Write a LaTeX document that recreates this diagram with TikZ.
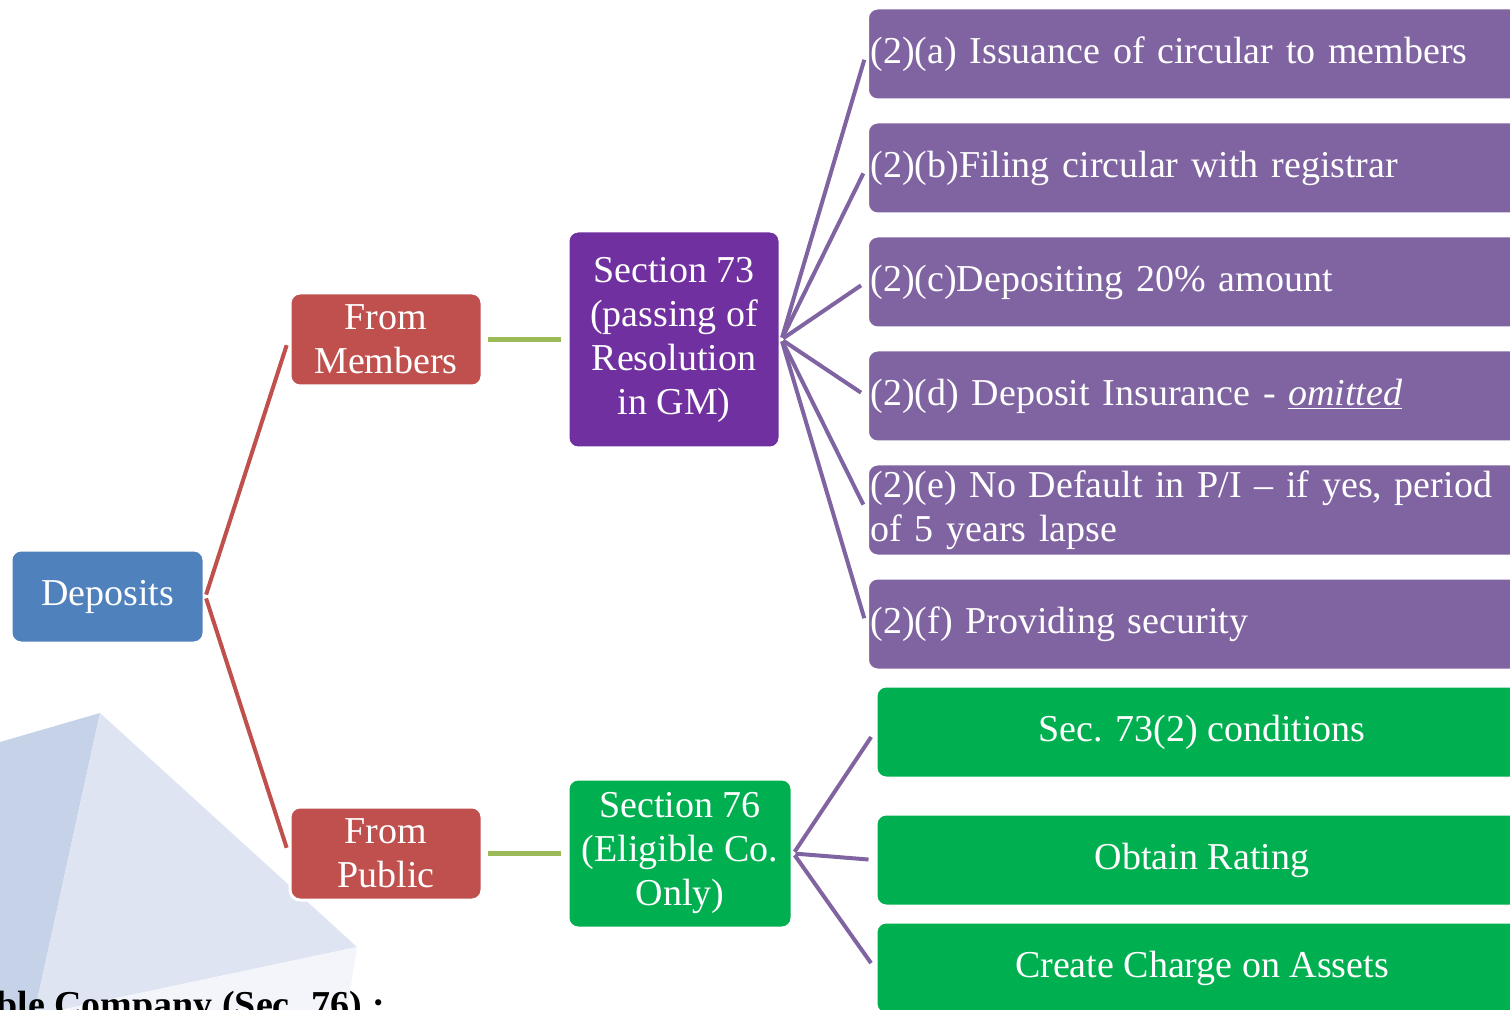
\documentclass[tikz,border=0pt]{standalone}
\usepackage{fontspec}
\setmainfont{Liberation Serif}
\usepackage{tikz}
\usetikzlibrary{arrows.meta, positioning, calc}
\definecolor{depblue}{HTML}{4F81BD}
\definecolor{srcred}{HTML}{C0504D}
\definecolor{secpurple}{HTML}{7030A0}
\definecolor{itempurple}{HTML}{8064A2}
\definecolor{secgreen}{HTML}{00B050}
\definecolor{linkgreen}{HTML}{9BBB59}
\definecolor{bgdark}{HTML}{C6D2E8}
\definecolor{bgmid}{HTML}{DEE4F1}
\definecolor{bglight}{HTML}{F3F5FA}

\begin{document}
\begin{tikzpicture}[x=0.5pt, y=-0.5pt,
        box/.style={draw=white, line width=1.5pt, rounded corners=5pt, text=white,
                    align=center, font=\fontsize{19}{22}\selectfont, inner sep=1.5pt},
        root/.style={box, fill=depblue, minimum width=96.5pt, minimum height=46.5pt},
        src/.style={box, fill=srcred, minimum width=96pt, minimum height=46.5pt},
        item/.style={box, fill=itempurple, anchor=west, align=left, text width=329pt,
                     minimum height=46pt},
        cond/.style={box, fill=secgreen, minimum width=326pt, minimum height=46pt},
        redline/.style={srcred, line width=2pt, shorten <=1pt, shorten >=3pt},
        greenline/.style={linkgreen, line width=2.5pt, shorten <=2pt, shorten >=3pt},
        purpleline/.style={itempurple, line width=2pt, shorten <=1pt, shorten >=3pt},
    ]
        \clip (0,0) rectangle (1510,1010);

        % background shapes
        \fill[bgdark]  (0,742) -- (100,713) -- (35,1010) -- (0,1010) -- cycle;
        \fill[bgmid]   (100,713) -- (357,947) -- (60,1010) -- (35,1010) -- cycle;
        \fill[bglight] (357,947) -- (347,1010) -- (60,1010) -- cycle;
        \node[anchor=base west, inner sep=0pt, font=\fontsize{19}{22}\selectfont\bfseries]
            (cut) at (-4,1017) {ble Company (Sec. 76) :};

        \node[root] (dep) at (107.5,596.5) {Deposits};
        \node[src]  (mem) at (386,339.5)   {From\\Members};
        \node[src]  (pub) at (386,853.5)   {From\\Public};

        \node[box, fill=secpurple, minimum width=106pt, minimum height=108.5pt]
            (s73) at (674,339.5) {Section 73\\(passing of\\Resolution\\in GM)};
        \node[box, fill=secgreen, minimum width=112pt, minimum height=74.5pt]
            (s76) at (680,853.5) {Section 76\\(Eligible Co.\\Only)};

        \node[item] (i2a) at (866,54)  {(2)(a) Issuance of circular to members};
        \node[item] (i2b) at (866,168) {(2)(b)Filing circular with registrar};
        \node[item] (i2c) at (866,282) {(2)(c)Depositing 20\% amount};
        \node[item] (i2d) at (866,396) {(2)(d) Deposit Insurance - \underline{\textit{omitted}}};
        \node[item] (i2e) at (866,510) {(2)(e) No Default in P/I -- if yes, period\\of 5 years lapse};
        \node[item] (i2f) at (866,624) {(2)(f) Providing security};

        \node[cond] (g1) at (1202,732) {Sec. 73(2) conditions};
        \node[cond] (g2) at (1202,860) {Obtain Rating};
        \node[cond] (g3) at (1202,968) {Create Charge on Assets};

        \foreach \b in {mem, pub} {
            \draw[redline] (dep.east) -- (\b.west);
        }
        \draw[greenline] (mem) -- (s73);
        \draw[greenline] (pub) -- (s76);
        \foreach \b in {i2a, i2b, i2c, i2d, i2e, i2f} {
            \draw[purpleline] (s73.east) -- (\b.west);
        }
        \foreach \b in {g1, g2, g3} {
            \draw[purpleline] (s76.east) -- (\b.west);
        }
    \end{tikzpicture}
\end{document}
